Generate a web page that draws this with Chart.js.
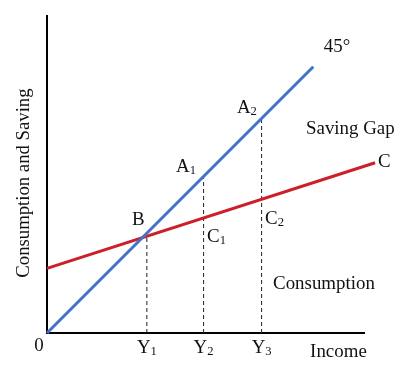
<!DOCTYPE html>
<html>
<head>
<meta charset="utf-8">
<script src="https://cdn.jsdelivr.net/npm/chart.js@4.4.1/dist/chart.umd.min.js"></script>
<style>
  body { margin: 0; background: #fff; }
  #wrap { width: 414px; height: 373px; }
</style>
</head>
<body>
<div id="wrap"><canvas id="chart" width="414" height="373"></canvas></div>
<script>
// 45 degree line (income = spending)
var line45X = [0, 84];
var line45Y = [0, 84];
// consumption function C
var consX = [0, 103.5];
var consY = [20.4, 53.7];
// income levels Y1, Y2, Y3 and where the dashed guides stop
var incomeMarks = [31.5, 49.4, 67.7];
var markTops = [30.6, 49.0, 67.3];
var incomeLabels = ["Y", "Y", "Y"];
var incomeSubs = ["1", "2", "3"];

var FONT = "'Liberation Serif', 'Times New Roman', serif";

function pts(xs, ys) {
  var out = [];
  for (var i = 0; i < xs.length; i++) out.push({x: xs[i], y: ys[i]});
  return out;
}

var datasets = [
  {
    data: pts(line45X, line45Y),
    borderColor: "#4472C4",
    borderWidth: 3,
    pointRadius: 0,
    clip: false
  },
  {
    data: pts(consX, consY),
    borderColor: "#CC1F2A",
    borderWidth: 3,
    pointRadius: 0,
    clip: false
  }
];
for (var i = 0; i < incomeMarks.length; i++) {
  datasets.push({
    data: pts([incomeMarks[i], incomeMarks[i]], [0, markTops[i]]),
    borderColor: "#222",
    borderWidth: 1,
    borderDash: [4, 3],
    pointRadius: 0,
    clip: false
  });
}

// text with optional subscript, drawn at data coordinates
function label(ctx, chart, text, sub, x, y, align) {
  var xs = chart.scales.x, ys = chart.scales.y;
  var px = xs.getPixelForValue(x), py = ys.getPixelForValue(y);
  ctx.save();
  ctx.fillStyle = "#111";
  ctx.textBaseline = "middle";
  ctx.font = "18px " + FONT;
  var w = ctx.measureText(text).width * 1.05;
  ctx.font = "12px " + FONT;
  var ws = sub ? ctx.measureText(sub).width * 1.05 : 0;
  var left = px;
  if (align === "center") left = px - (w + ws) / 2;
  ctx.translate(left, py);
  ctx.scale(1.05, 1);
  ctx.font = "18px " + FONT;
  ctx.textAlign = "left";
  ctx.fillText(text, 0, 0);
  if (sub) {
    ctx.font = "12px " + FONT;
    ctx.fillText(sub, w / 1.05, 4);
  }
  ctx.restore();
}

var textPlugin = {
  id: "texts",
  afterDatasetsDraw: function(chart) {
    var ctx = chart.ctx;
    label(ctx, chart, "45\u00B0", "", 91.5, 90.2, "center");
    label(ctx, chart, "A", "2", 59.9, 71.0);
    label(ctx, chart, "A", "1", 40.7, 52.4);
    label(ctx, chart, "B", "", 26.8, 35.6);
    label(ctx, chart, "C", "1", 50.5, 30.3);
    label(ctx, chart, "C", "2", 68.8, 36.0);
    label(ctx, chart, "C", "", 104.4, 53.9);
    label(ctx, chart, "Saving Gap", "", 81.7, 64.4);
    label(ctx, chart, "Consumption", "", 71.3, 15.5);
    label(ctx, chart, "Income", "", 83.0, -6.0);
    label(ctx, chart, "0", "", -2.5, -4.1, "center");
    for (var i = 0; i < incomeMarks.length; i++) {
      label(ctx, chart, incomeLabels[i], incomeSubs[i], incomeMarks[i], -4.7, "center");
    }
    // y axis title
    var px = chart.scales.x.getPixelForValue(-7.3);
    var py = chart.scales.y.getPixelForValue(47.3);
    ctx.save();
    ctx.translate(px, py);
    ctx.rotate(-Math.PI / 2);
    ctx.scale(1.04, 1);
    ctx.font = "18px " + FONT;
    ctx.fillStyle = "#111";
    ctx.textAlign = "center";
    ctx.textBaseline = "middle";
    ctx.fillText("Consumption and Saving", 0, 0);
    ctx.restore();
  }
};

new Chart(document.getElementById("chart"), {
  type: "line",
  data: { datasets: datasets },
  options: {
    responsive: false,
    animation: false,
    layout: { padding: { left: 47, top: 16, right: 50, bottom: 40 } },
    plugins: { legend: { display: false }, tooltip: { enabled: false } },
    scales: {
      x: {
        type: "linear", min: 0, max: 100,
        grid: { display: false },
        ticks: { display: false },
        border: { display: true, color: "#000", width: 2 },
        afterFit: function(s) { s.height = 0; }
      },
      y: {
        type: "linear", min: 0, max: 100,
        grid: { display: false },
        ticks: { display: false },
        border: { display: true, color: "#000", width: 2 },
        afterFit: function(s) { s.width = 0; }
      }
    }
  },
  plugins: [textPlugin]
});
</script>
</body>
</html>
